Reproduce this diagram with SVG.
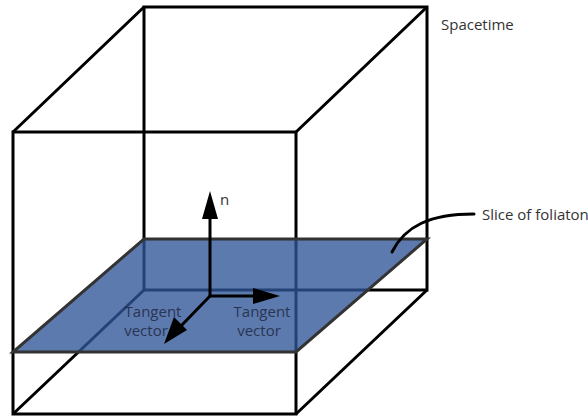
<svg xmlns="http://www.w3.org/2000/svg" width="588" height="416" viewBox="0 0 588 416">
<style>
.box{fill:none;stroke:#000;stroke-width:3;stroke-linejoin:miter}
.head{fill:#000;stroke:none}
.ln{fill:none;stroke:#000;stroke-width:3}
text{font-family:"Open Sans","Noto Sans",sans-serif;font-size:15px;fill:#333}
.c{text-anchor:middle;fill:#1f2a44;opacity:.85}
</style>
<rect width="588" height="416" fill="#fff"/>
<g id="cube">
<path class="box" d="M144 7H427V290H144Z"/>
<path class="box" d="M13 132H296V414H13Z"/>
<path class="box" d="M13 132L144 7M296 132L427 7M13 414L144 290M296 414L427 290"/>
</g>
<g id="slice">
<path d="M144 239H427L296 352H13Z" fill="#2f5597" fill-opacity=".78" stroke="#333" stroke-width="3"/>
</g>
<g id="connectors">
<path class="ln" d="M210 296V214"/>
<path class="head" d="M210 191L218 219H202Z"/>
<path class="ln" d="M210 296H258"/>
<path class="head" d="M280 296L253 304V288Z"/>
<path class="ln" d="M210 296L180 327"/>
<path class="head" d="M164 344L174 317L187 330Z"/>
<path class="ln" stroke-linecap="round" d="M392 252C405 226 430 214 474 214"/>
</g>
<g id="label-spacetime"><text x="441" y="30">Spacetime</text></g>
<g id="label-slice"><text x="482" y="220">Slice of foliaton</text></g>
<g id="label-n"><text x="220" y="205">n</text></g>
<g id="label-tangent-left"><text class="c" x="153" y="317">Tangent</text><text class="c" x="146" y="336">vector</text></g>
<g id="label-tangent-right"><text class="c" x="262" y="317">Tangent</text><text class="c" x="259" y="336">vector</text></g>
</svg>
